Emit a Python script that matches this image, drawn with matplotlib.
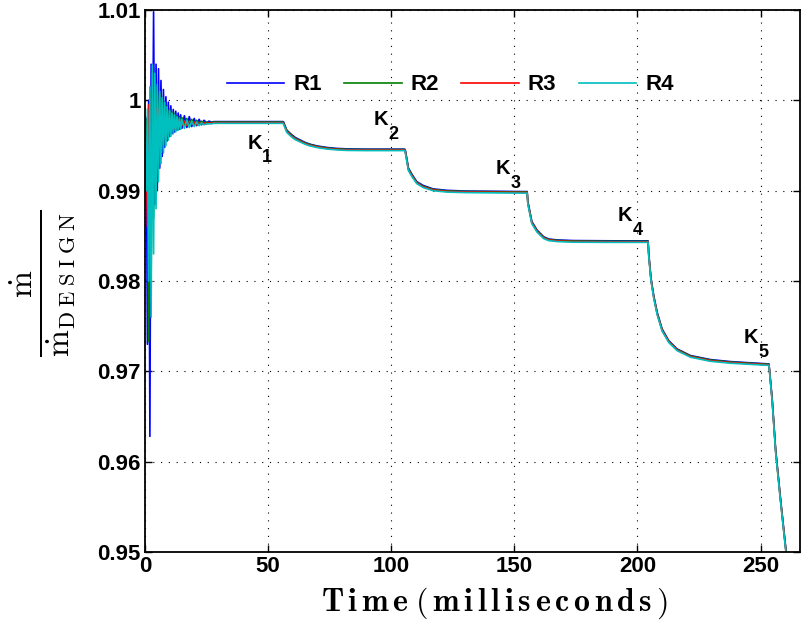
import matplotlib
matplotlib.use("Agg")
import matplotlib.pyplot as plt

# 字体设置
plt.rcParams['font.family'] = ['Liberation Sans', 'DejaVu Sans']
plt.rcParams['font.weight'] = 'bold'

# 起始振荡段的时间 (ms)
t_osc = [0.5, 1.0, 1.5, 2.0, 2.5, 3.0, 3.5, 4.0, 4.5, 5.0, 5.5, 6.0, 6.5, 7.0, 7.5,
         8.0, 8.5, 9.0, 9.5, 10.0, 10.5, 11.0, 11.5, 12.0, 12.5, 13.0, 13.5, 14.0,
         14.5, 15.0, 16, 17, 18, 19, 20, 21, 22, 23, 24, 25, 26, 27]

r1_osc = [0.9980, 0.9730, 1.0000, 0.9628, 1.0040, 0.9880, 1.0098, 0.9885, 1.0040, 0.9900,
          1.0035, 0.9925, 1.0022, 0.9938, 1.0012, 0.9948, 1.0004, 0.9955, 0.9998, 0.9960,
          0.9994, 0.9963, 0.9990, 0.9965, 0.9988, 0.9967, 0.9986, 0.9968, 0.9984, 0.9969,
          0.9983, 0.9970, 0.9982, 0.9971, 0.9980, 0.9972, 0.9979, 0.9973, 0.9978, 0.9975,
          0.9977, 0.9976]
r2_osc = [0.9920, 0.9980, 0.9733, 1.0010, 0.9800, 1.0030, 0.9870, 1.0025, 0.9905, 1.0015,
          0.9925, 1.0008, 0.9940, 1.0002, 0.9950, 0.9998, 0.9956, 0.9994, 0.9960, 0.9990,
          0.9964, 0.9987, 0.9966, 0.9985, 0.9968, 0.9983, 0.9969, 0.9982, 0.9970, 0.9981,
          0.9971, 0.9980, 0.9972, 0.9979, 0.9973, 0.9978, 0.9974, 0.9977, 0.9975, 0.9976,
          0.9975, 0.9976]
r3_osc = [0.9950, 0.9860, 0.9995, 0.9880, 1.0002, 0.9910, 0.9998, 0.9925, 0.9992, 0.9938,
          0.9990, 0.9948, 0.9987, 0.9955, 0.9985, 0.9960, 0.9983, 0.9964, 0.9981, 0.9966,
          0.9980, 0.9968, 0.9979, 0.9969, 0.9978, 0.9970, 0.9978, 0.9971, 0.9977, 0.9972,
          0.9977, 0.9972, 0.9976, 0.9973, 0.9976, 0.9973, 0.9975, 0.9974, 0.9975, 0.9974,
          0.9975, 0.9975]
r4_osc = [0.9900, 0.9990, 0.9800, 1.0015, 0.9760, 1.0039, 0.9830, 1.0030, 0.9880, 1.0018,
          0.9910, 1.0010, 0.9930, 1.0003, 0.9942, 0.9998, 0.9950, 0.9993, 0.9956, 0.9989,
          0.9960, 0.9986, 0.9963, 0.9984, 0.9965, 0.9982, 0.9967, 0.9980, 0.9968, 0.9979,
          0.9969, 0.9978, 0.9970, 0.9977, 0.9971, 0.9976, 0.9972, 0.9975, 0.9973, 0.9974,
          0.9974, 0.9974]

# 阶梯段的时间 (ms)
t_rest = [28, 56, 56.3, 57.6, 59.6, 61, 63, 65, 67, 70, 74, 78, 82, 90,
          105.5, 105.8, 107, 108.5, 110.4, 113, 117, 122.6, 130,
          155.2, 155.5, 157.1, 159.2, 161.9, 164, 167.3, 174, 190,
          204.3, 204.6, 205.5, 206.6, 208, 210, 212.7, 216.1, 221.5, 229.7, 237.8,
          253.4, 254.7, 256.1, 258.1, 260.4, 261.5]

r1_rest = [0.99765, 0.99765, 0.99760, 0.99670, 0.99620, 0.99590, 0.99562, 0.99535, 0.99515,
           0.99495, 0.99478, 0.99468, 0.99463, 0.99460,
           0.99460, 0.99440, 0.99250, 0.99178, 0.99100, 0.99058, 0.99020, 0.99004, 0.98996,
           0.98990, 0.98880, 0.98660, 0.98565, 0.98490, 0.98465, 0.98455, 0.98448, 0.98445,
           0.98445, 0.98300, 0.98030, 0.97840, 0.97655, 0.97470, 0.97340, 0.97248, 0.97175,
           0.97130, 0.97108,
           0.97082, 0.96700, 0.96140, 0.95590, 0.95000, 0.94700]
r2_rest = [0.99760, 0.99760, 0.99750, 0.99665, 0.99612, 0.99583, 0.99556, 0.99530, 0.99510,
           0.99490, 0.99473, 0.99463, 0.99458, 0.99456,
           0.99456, 0.99430, 0.99240, 0.99170, 0.99092, 0.99050, 0.99014, 0.98998, 0.98992,
           0.98986, 0.98870, 0.98650, 0.98557, 0.98484, 0.98460, 0.98450, 0.98443, 0.98440,
           0.98440, 0.98290, 0.98020, 0.97830, 0.97645, 0.97462, 0.97333, 0.97242, 0.97170,
           0.97125, 0.97103,
           0.97078, 0.96690, 0.96130, 0.95580, 0.94990, 0.94690]
r3_rest = [0.99753, 0.99753, 0.99742, 0.99655, 0.99603, 0.99574, 0.99548, 0.99522, 0.99503,
           0.99484, 0.99467, 0.99458, 0.99452, 0.99450,
           0.99450, 0.99420, 0.99232, 0.99162, 0.99086, 0.99043, 0.99008, 0.98992, 0.98986,
           0.98980, 0.98860, 0.98645, 0.98550, 0.98478, 0.98454, 0.98444, 0.98437, 0.98434,
           0.98434, 0.98280, 0.98012, 0.97822, 0.97638, 0.97455, 0.97327, 0.97236, 0.97164,
           0.97118, 0.97097,
           0.97072, 0.96680, 0.96120, 0.95570, 0.94980, 0.94680]
r4_rest = [0.99746, 0.99746, 0.99735, 0.99645, 0.99594, 0.99566, 0.99540, 0.99515, 0.99496,
           0.99477, 0.99461, 0.99452, 0.99446, 0.99444,
           0.99444, 0.99410, 0.99222, 0.99152, 0.99078, 0.99035, 0.99000, 0.98985, 0.98979,
           0.98973, 0.98850, 0.98635, 0.98542, 0.98470, 0.98447, 0.98437, 0.98430, 0.98428,
           0.98428, 0.98270, 0.98002, 0.97812, 0.97628, 0.97446, 0.97320, 0.97229, 0.97157,
           0.97111, 0.97090,
           0.97066, 0.96670, 0.96110, 0.95560, 0.94970, 0.94670]

labels = ['R1', 'R2', 'R3', 'R4']
colors = ['#0000ff', '#008000', '#ff0000', '#00bfbf']

# K 标注
k_sub = ['1', '2', '3', '4', '5']
k_t = [41.5, 92.7, 142.3, 191.9, 243.1]
k_v = [0.99467, 0.99722, 0.99189, 0.98667, 0.97311]

yticks = [0.95, 0.96, 0.97, 0.98, 0.99, 1.0, 1.01]
yticklabels = ['0.95', '0.96', '0.97', '0.98', '0.99', '1', '1.01']
xticks = [0, 50, 100, 150, 200, 250]


def spaced(word, gap=r'\,'):
    return gap.join(list(word))


fig = plt.figure(figsize=(8.04, 6.28), dpi=100)
ax = fig.add_axes([0.1803, 0.121, 0.8147, 0.863])

series = [(r1_osc, r1_rest), (r2_osc, r2_rest), (r3_osc, r3_rest), (r4_osc, r4_rest)]
for (so, sr), lab, c in zip(series, labels, colors):
    ax.plot(t_osc + t_rest, so + sr, color=c, lw=1.2, label=lab)

for d, x, y in zip(k_sub, k_t, k_v):
    ax.text(x, y, 'K', fontsize=14.5, fontweight='bold', ha='left', va='baseline')
    ax.annotate(d, xy=(x, y), xytext=(10.8, -10), textcoords='offset points',
                fontsize=13, fontweight='bold', ha='left', va='baseline')

ax.set_xlim(0, 266)
ax.set_ylim(0.95, 1.01)
ax.set_xticks(xticks)
ax.set_yticks(yticks)
ax.set_yticklabels(yticklabels)
ax.tick_params(direction='in', length=5, width=1, labelsize=16,
               top=True, right=True, pad=3)
for s in ax.spines.values():
    s.set_linewidth(1.3)
ax.grid(True, color='black', linestyle=(0, (1, 6)), linewidth=0.8)

xl = r'$\mathbf{' + spaced('Time') + r'\;(\,' + spaced('milliseconds') + r'\,)}$'
ax.set_xlabel(xl, fontsize=23, math_fontfamily='cm')
ax.xaxis.set_label_coords(0.534, -0.062)

yl = (r'$\frac{\dot{\mathrm{m}}}{\dot{\mathrm{m}}_{\mathrm{'
      + spaced('DESIGN', r'\;') + r'}}}$')
ax.set_ylabel(yl, fontsize=33, math_fontfamily='cm')
ax.yaxis.set_label_coords(-0.104, 0.496)

ax.legend(loc='center', bbox_to_anchor=(0.466, 0.862), ncol=4, frameon=False,
          handlelength=2.6, handletextpad=0.4, columnspacing=1.0,
          prop={'weight': 'bold', 'size': 16})

fig.savefig('out.png', dpi=100)
